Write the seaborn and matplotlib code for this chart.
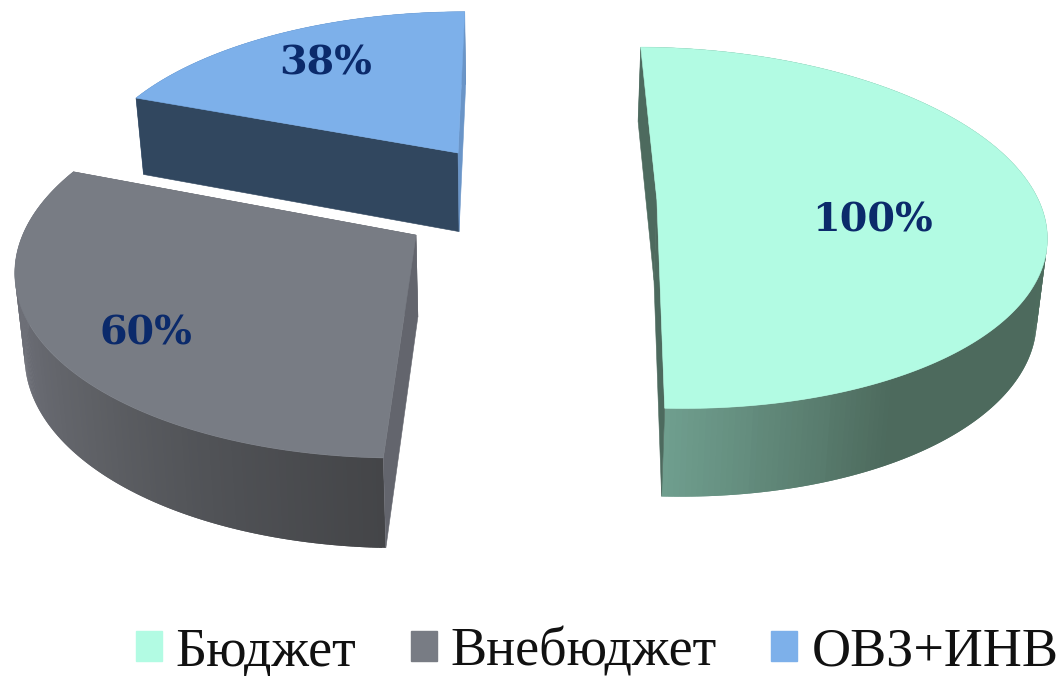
"""
Exploded 3D pie of budget shares, projected by hand onto a flat axes.
"""
import numpy as np
import matplotlib.pyplot as plt
from matplotlib.patches import Patch, Polygon
import seaborn as sns

categories = ['Бюджет', 'Внебюджет', 'ОВЗ+ИНВ']
values = [100, 60, 38]
value_labels = ['100%', '60%', '38%']

top_colors = ['#b2fbe3', '#787c84', '#7db0ea']
# wall shades run along the slice, from its first angle to its last
wall_colors = [['#517163', '#4f6e60', '#4f6e60', '#4e6c5e', '#4d6a5d', '#4d6a5d', '#6f9e8e'],
               ['#444548', '#505256', '#5f6166', '#6a6c74', '#6e7078', '#6e7078'],
               ['#4a6f9c', '#4a6f9c']]
start_face = ['#4d6a5e', '#63656d', '#31475f']
end_face = ['#4d6a5e', '#63656d', '#6a95c8']
label_color = '#0b2a6b'

# projection of the unit disc to pixels
CX, CY, RX, RY, PERSP = 510, 240, 395, 189, 0.16
DEPTH, DEPTH_POW, SHRINK = 82, 0.55, 0.02
# where each slice was pulled to on the disc
offsets = [(0.385, 0.22), (-0.239, 0.026), (-0.142, 0.497)]
spin = [0.6, 0, 0]
label_r = [0.56, 0.77, 0.76]
label_shift = [8, -3, 2]


def project(u, v, lower=False):
    u, v = np.asarray(u, float), np.asarray(v, float)
    w = 1 + PERSP * v
    x = CX + RX * u / w
    y = CY - RY * v / w
    if lower:
        x = CX + (x - CX) * (1 - SHRINK)
        y = y + DEPTH / w ** DEPTH_POW
    return x, y


def disc(off, angle, r=1.0):
    return off[0] + r * np.sin(angle), off[1] + r * np.cos(angle)


def side(ax, off, angle, color, z):
    p0 = project(*off)
    p1 = project(*disc(off, angle))
    q1 = project(*disc(off, angle), lower=True)
    q0 = project(*off, lower=True)
    ax.add_patch(Polygon([p0, p1, q1, q0], fc=color, ec=color, lw=0.4, zorder=z))


def faces_viewer(off, normal):
    # the eye sits on the line where the perspective divisor goes to zero
    view = np.array([-off[0], -1 / PERSP - off[1]])
    return np.dot(normal, view) > 0


def draw_slice(ax, off, a0, a1, top, walls, face0, face1):
    n = 240
    ang = np.linspace(a0, a1, n + 1)
    u, v = disc(off, ang)
    xt, yt = project(u, v)
    xb, yb = project(u, v, lower=True)
    shades = sns.blend_palette(walls, n)
    for i in range(n):
        j = min(i + 2, n)  # overlap the strips so no seams show
        pts = [(xt[i], yt[i]), (xt[j], yt[j]), (xb[j], yb[j]), (xb[i], yb[i])]
        ax.add_patch(Polygon(pts, fc=shades[i], ec='none', zorder=3))

    n0 = (-np.cos(a0), np.sin(a0))
    n1 = (np.cos(a1), -np.sin(a1))
    side(ax, off, a0, face0, 4 if faces_viewer(off, n0) else 1)
    side(ax, off, a1, face1, 4 if faces_viewer(off, n1) else 1)

    x0, y0 = project(*off)
    outline = [(x0, y0)] + list(zip(xt, yt))
    ax.add_patch(Polygon(outline, fc=top, ec=top, lw=0.4, zorder=5))


sns.set_theme(style='white')
plt.rcParams['font.family'] = ['Liberation Serif', 'DejaVu Serif']

fig = plt.figure(figsize=(10.61, 6.76), dpi=100)
ax = fig.add_axes([0, 0, 1, 1])
ax.set_xlim(0, 1061)
ax.set_ylim(676, 0)
ax.axis('off')

edges = np.concatenate([[0], np.cumsum(values)]) / np.sum(values) * 2 * np.pi
for i in range(len(values)):
    turn = np.radians(spin[i])
    draw_slice(ax, offsets[i], edges[i] + turn, edges[i + 1] + turn, top_colors[i],
               wall_colors[i], start_face[i], end_face[i])
    mid = (edges[i] + edges[i + 1]) / 2 + np.radians(label_shift[i])
    lx, ly = project(*disc(offsets[i], mid, label_r[i]))
    ax.annotate(value_labels[i], (lx, ly), xytext=(0, -4), textcoords='offset points',
                ha='center', va='center', color=label_color, fontsize=28.5,
                fontweight='bold', family=['DejaVu Serif'], zorder=6)

handles = [Patch(fc=c, ec=c, label=n) for c, n in zip(top_colors, categories)]
ax.legend(handles=handles, ncol=3, loc='lower right', bbox_to_anchor=(0.9975, -0.002),
          frameon=False, fontsize=39, labelcolor='#111111', handlelength=0.48,
          handleheight=0.48, handletextpad=0.26, columnspacing=1.0, borderpad=0.0,
          borderaxespad=0)

fig.savefig('out.png', dpi=100)
